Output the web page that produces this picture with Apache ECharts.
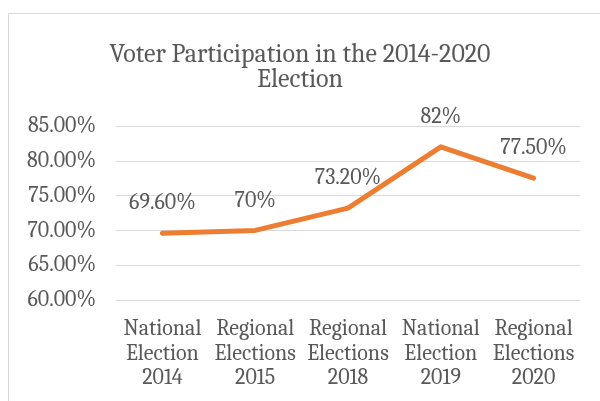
<!DOCTYPE html>
<html>
<head>
<meta charset="utf-8">
<script src="https://cdn.jsdelivr.net/npm/echarts@6/dist/echarts.min.js"></script>
<style>
  html, body { margin: 0; padding: 0; background: #fff; }
  #chart { width: 600px; height: 401px; }
</style>
</head>
<body>
<div id="chart"></div>
<script>
// chart data
const categories = [
  'National\nElection\n2014',
  'Regional\nElections\n2015',
  'Regional\nElections\n2018',
  'National\nElection\n2019',
  'Regional\nElections\n2020'
];
const turnout = [69.6, 70, 73.2, 82, 77.5];
const pointLabels = ['69.60%', '70%', '73.20%', '82%', '77.50%'];

const serif = 'Cambria, "Liberation Serif", "DejaVu Serif", serif';
const textGray = '#595959';

const chart = echarts.init(document.getElementById('chart'));
chart.setOption({
  animation: false,
  title: {
    text: 'Voter Participation in the 2014-2020\nElection',
    left: 'center',
    top: 37,
    textStyle: {
      fontFamily: serif,
      fontWeight: 'normal',
      fontSize: 26,
      lineHeight: 25,
      color: textGray
    }
  },
  graphic: [{
    type: 'rect',
    shape: { x: 8.5, y: 13.5, width: 620, height: 420 },
    style: { fill: 'none', stroke: '#d9d9d9', lineWidth: 1 },
    silent: true
  }],
  grid: { left: 116, right: 20, top: 126, bottom: 101 },
  xAxis: {
    type: 'category',
    data: categories,
    axisLine: { show: true, lineStyle: { color: '#d9d9d9', width: 1 } },
    axisTick: { show: false },
    axisLabel: {
      margin: 17,
      fontFamily: serif,
      fontSize: 22,
      lineHeight: 24.5,
      color: textGray,
      interval: 0
    }
  },
  yAxis: {
    type: 'value',
    min: 60,
    max: 85,
    interval: 5,
    axisLine: { show: false },
    axisTick: { show: false },
    splitLine: { lineStyle: { color: '#d9d9d9', width: 1 } },
    axisLabel: {
      margin: 20,
      fontFamily: serif,
      fontSize: 22,
      color: textGray,
      formatter: v => v.toFixed(2) + '%'
    }
  },
  series: [{
    type: 'line',
    data: turnout,
    symbol: 'circle',
    symbolSize: 0,
    showSymbol: true,
    lineStyle: { color: '#ed7d31', width: 5, cap: 'round', join: 'round' },
    itemStyle: { color: '#ed7d31' },
    label: {
      show: true,
      position: 'top',
      distance: 19,
      fontFamily: serif,
      fontSize: 22,
      color: textGray,
      formatter: p => pointLabels[p.dataIndex]
    }
  }]
});
</script>
</body>
</html>
